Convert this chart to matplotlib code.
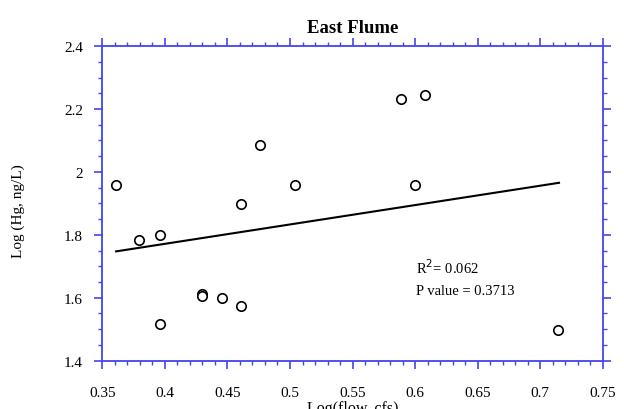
import numpy as np
import matplotlib.pyplot as plt
from matplotlib.ticker import MultipleLocator

# data
log_flow = [0.361, 0.379, 0.396, 0.396, 0.430, 0.430, 0.446, 0.461, 0.461,
            0.476, 0.504, 0.589, 0.608, 0.600, 0.714]
log_hg = [1.957, 1.785, 1.801, 1.518, 1.613, 1.607, 1.600, 1.575, 1.897,
          2.085, 1.957, 2.231, 2.244, 1.957, 1.496]

# regression line as drawn
slope = 0.616
intercept = 1.525
fit_x = np.array([0.361, 0.715])

x_ticks = [0.35, 0.4, 0.45, 0.5, 0.55, 0.6, 0.65, 0.7, 0.75]
x_labels = ['0.35', '0.4', '0.45', '0.5', '0.55', '0.6', '0.65', '0.7', '0.75']
y_ticks = [1.4, 1.6, 1.8, 2.0, 2.2, 2.4]
y_labels = ['1.4', '1.6', '1.8', '2', '2.2', '2.4']

plt.rcParams['font.family'] = ['Liberation Serif', 'DejaVu Serif']

fig = plt.figure(figsize=(6.24, 4.10), dpi=100)
ax = fig.add_axes([0.164, 0.118, 0.802, 0.767])

ax.scatter(log_flow, log_hg, s=46, facecolors='white', edgecolors='black',
           linewidths=1.2, zorder=3)
ax.plot(fit_x, intercept + slope * fit_x, color='black', lw=1.5)

ax.set_xlim(0.35, 0.75)
ax.set_ylim(1.4, 2.4)
ax.set_xticks(x_ticks)
ax.set_xticklabels(x_labels)
ax.set_yticks(y_ticks)
ax.set_yticklabels(y_labels)
ax.xaxis.set_minor_locator(MultipleLocator(0.01))
ax.yaxis.set_minor_locator(MultipleLocator(0.05))

blue = '#4444ee'
for sp in ax.spines.values():
    sp.set_color(blue)
    sp.set_linewidth(1.3)
ax.tick_params(which='major', direction='out', length=6, width=1.2,
               color=blue, top=True, right=True, labelsize=11)
ax.tick_params(which='minor', direction='out', length=3, width=1.0,
               color=blue, top=True, right=True)
ax.tick_params(axis='x', which='major', pad=12)
ax.tick_params(axis='y', which='major', pad=8)

ax.set_title('East Flume', fontsize=13.5, fontweight='bold', pad=10)
ax.set_xlabel('Log(flow, cfs)', fontsize=11.5, labelpad=1)
ax.set_ylabel('Log (Hg, ng/L)', fontsize=11)
ax.yaxis.set_label_coords(-0.155, 0.48)

ax.text(0.601, 1.678, r'R$^2$= 0.062', fontsize=10.5)
ax.text(0.601, 1.613, 'P value = 0.3713', fontsize=10.5)

fig.savefig('out.png', dpi=100)
